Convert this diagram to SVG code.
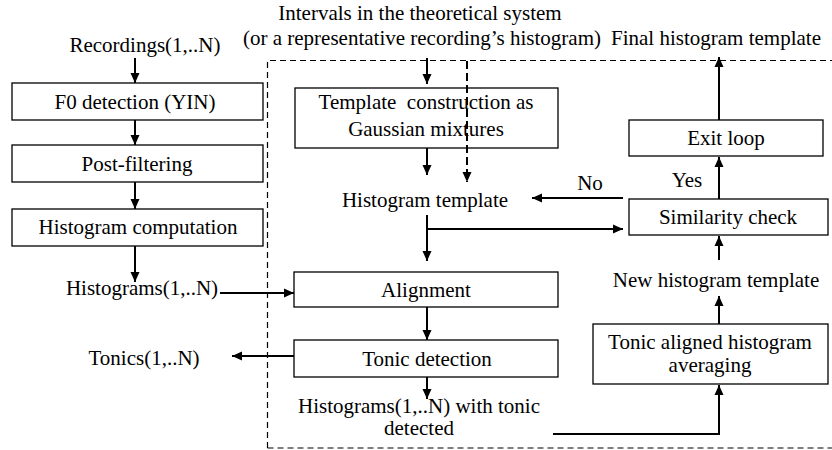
<svg xmlns="http://www.w3.org/2000/svg" width="832" height="450" viewBox="0 0 832 450">
<style>
text{font-family:'Liberation Serif',Tinos,'Times New Roman',Times,'DejaVu Serif',serif;font-size:21px;fill:#000;text-anchor:middle}
.box{fill:#fff;stroke:#000;stroke-width:1.3}
.c{fill:none;stroke:#000;stroke-width:2}
.dash{fill:none;stroke:#000;stroke-width:1.2;stroke-dasharray:6 4}
</style>
<defs>
<marker id="ah" markerUnits="userSpaceOnUse" markerWidth="11" markerHeight="10" refX="10" refY="5" orient="auto">
<path d="M0,0.5 L10,5 L0,9.5 z" fill="#000"/>
</marker>
</defs>
<rect x="0" y="0" width="832" height="450" fill="#fff"/>
<path class="dash" d="M267.5,448 V60.5 H832 M267.5,448 H832"/>
<g font-family="Liberation Serif, Tinos, Times New Roman, serif">
<g id="recordings"><text x="145" y="52">Recordings(1,..N)</text></g>
<g id="f0"><rect class="box" x="12" y="83" width="251" height="37"/><text x="135" y="109">F0 detection (YIN)</text></g>
<g id="postfilter"><rect class="box" x="12" y="145" width="251" height="37"/><text x="137" y="171">Post-filtering</text></g>
<g id="histcomp"><rect class="box" x="12" y="209" width="251" height="37"/><text x="138" y="234">Histogram computation</text></g>
<g id="histograms"><text x="142" y="295">Histograms(1,..N)</text></g>
<g id="tonics"><text x="144" y="365">Tonics(1,..N)</text></g>
<g id="intervals"><text x="420" y="20">Intervals in the theoretical system</text><text x="422" y="45">(or a representative recording’s histogram)</text></g>
<g id="template"><rect class="box" x="295" y="88" width="263" height="60"/><text x="426" y="109" xml:space="preserve">Template  construction as</text><text x="426" y="136">Gaussian mixtures</text></g>
<g id="histtemplate"><text x="425" y="207">Histogram template</text></g>
<g id="alignment"><rect class="box" x="294" y="272" width="264" height="35"/><text x="426" y="297">Alignment</text></g>
<g id="tonicdet"><rect class="box" x="294" y="340" width="264" height="37"/><text x="427" y="366">Tonic detection</text></g>
<g id="histtonic"><text x="419" y="413">Histograms(1,..N) with tonic</text><text x="419" y="435">detected</text></g>
<g id="final"><text x="716" y="45">Final histogram template</text></g>
<g id="exit"><rect class="box" x="629" y="120" width="194" height="36"/><text x="726" y="145">Exit loop</text></g>
<g id="similarity"><rect class="box" x="629" y="199" width="199" height="36"/><text x="728" y="224">Similarity check</text></g>
<g id="newhist"><text x="716" y="287">New histogram template</text></g>
<g id="averaging"><rect class="box" x="593" y="324" width="235" height="60"/><text x="710" y="349">Tonic aligned histogram</text><text x="710" y="372">averaging</text></g>
<g id="labels"><text x="590" y="190">No</text><text x="687" y="187">Yes</text></g>
</g>
<g id="connectors">
<path class="c" d="M135,58 V83" marker-end="url(#ah)"/>
<path class="c" d="M135,120 V145" marker-end="url(#ah)"/>
<path class="c" d="M135,182 V209" marker-end="url(#ah)"/>
<path class="c" d="M135,246 V282" marker-end="url(#ah)"/>
<path class="c" d="M220,293 H294" marker-end="url(#ah)"/>
<path class="c" d="M427,58 V84" marker-end="url(#ah)"/>
<path class="c" d="M467,61 V182" stroke-dasharray="8 4" marker-end="url(#ah)"/>
<path class="c" d="M427,148 V175" marker-end="url(#ah)"/>
<path class="c" d="M427,215 V261" marker-end="url(#ah)"/>
<path class="c" d="M427,229 H623" marker-end="url(#ah)"/>
<path class="c" d="M623,198 H532" marker-end="url(#ah)"/>
<path class="c" d="M719,199 V157" marker-end="url(#ah)"/>
<path class="c" d="M719,120 V57" marker-end="url(#ah)"/>
<path class="c" d="M719,260 V236" marker-end="url(#ah)"/>
<path class="c" d="M719,324 V296" marker-end="url(#ah)"/>
<path class="c" d="M427,307 V340" marker-end="url(#ah)"/>
<path class="c" d="M294,356 H232" marker-end="url(#ah)"/>
<path class="c" d="M427,377 V399" marker-end="url(#ah)"/>
<path class="c" d="M553,434 H719 V385" marker-end="url(#ah)"/>
</g>
</svg>
